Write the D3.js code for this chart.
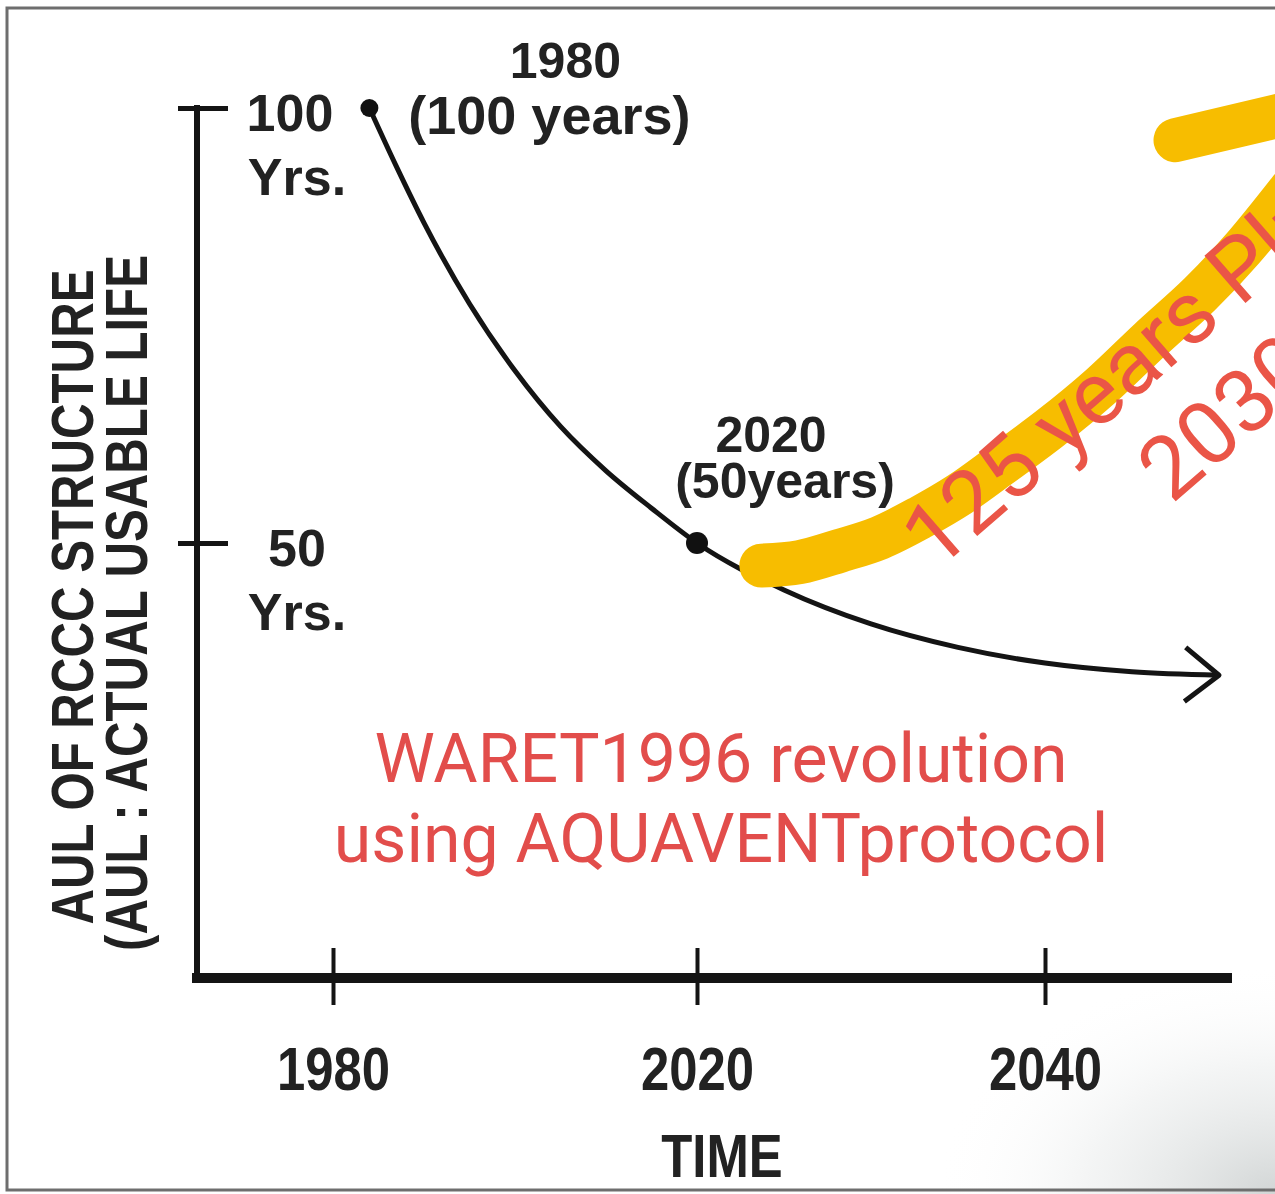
<!DOCTYPE html>
<html>
<head>
<meta charset="utf-8">
<script src="https://cdn.jsdelivr.net/npm/d3@7"></script>
<style>
  body { margin: 0; background: #fff; }
  svg { display: block; }
</style>
</head>
<body>
<div id="chart"></div>
<script>
// AUL curve: year -> actual usable life (years)
const years = [1984, 1987, 1990, 1995, 2000, 2005, 2010, 2015, 2020, 2025, 2030, 2035, 2040, 2045, 2050];
const aul   = [100, 93.2, 86.8, 77.5, 69.8, 63.4, 58.3, 54.0, 50, 44.6, 40.7, 38.0, 36.2, 35.2, 34.8];

// yellow highlight stroke (hand drawn arrow)
const hlYears = [2023.7, 2025.9, 2028.2, 2030.5, 2032.8, 2035.1, 2037.4, 2040.3, 2043.2, 2046.0, 2048.9, 2051.3, 2054.1];
const hlAul   = [47.4, 47.8, 49.1, 50.6, 52.9, 55.6, 58.9, 63.2, 68.0, 73.3, 78.6, 83.7, 90.6];
const headYears = [2047.5, 2056.4];
const headAul   = [96.3, 100.5];

const xTicks = [1980, 2020, 2040];
const yTicks = [50, 100];
const yTickText = {100: ["100", "Yrs."], 50: ["50", "Yrs."]};

// marked points and their labels
const markYears  = [1984, 2020];
const markLabels = [["1980", "(100 years)"], ["2020", "(50years)"]];

const W = 1275, H = 1194;
const bold = "'Liberation Sans', Arial, sans-serif";
const squeeze = "scale(0.82,1)";   // narrow look of the scanned labels

const svg = d3.select("#chart").append("svg")
    .attr("width", W).attr("height", H)
    .attr("viewBox", `0 0 ${W} ${H}`);

const defs = svg.append("defs");
const grad = defs.append("radialGradient").attr("id", "shade");
grad.append("stop").attr("offset", "0%").attr("stop-color", "#b4baba").attr("stop-opacity", 0.6);
grad.append("stop").attr("offset", "55%").attr("stop-color", "#d8dcdc").attr("stop-opacity", 0.3);
grad.append("stop").attr("offset", "100%").attr("stop-color", "#fff").attr("stop-opacity", 0);

defs.append("marker")
    .attr("id", "arrow")
    .attr("markerUnits", "userSpaceOnUse")
    .attr("viewBox", "-40 -32 46 64")
    .attr("markerWidth", 46).attr("markerHeight", 64)
    .attr("refX", 0).attr("refY", 0)
    .attr("orient", "auto")
  .append("path")
    .attr("d", "M-34,-27L0,0L-34,27")
    .attr("fill", "none").attr("stroke", "#141414")
    .attr("stroke-width", 5).attr("stroke-linejoin", "round");

svg.append("rect").attr("width", W).attr("height", H).attr("fill", "#fff");
svg.append("ellipse")
    .attr("cx", W).attr("cy", H).attr("rx", 340).attr("ry", 230)
    .attr("fill", "url(#shade)");

// photo frame
svg.append("rect")
    .attr("x", 7).attr("y", 8).attr("width", W + 20).attr("height", 1182)
    .attr("fill", "none").attr("stroke", "#6e6e6e").attr("stroke-width", 3);

// schematic scales: the time axis is not evenly spaced
const x = d3.scaleLinear().domain([1980, 2020, 2040]).range([333, 697, 1045]);
const y = d3.scaleLinear().domain([0, 100]).range([978, 108]);
const axisX = 197;

// y axis
const yAxis = svg.append("g")
    .attr("transform", `translate(${axisX},0)`)
    .call(d3.axisLeft(y).tickValues(yTicks).tickSize(19).tickSizeOuter(0).tickFormat(""));
yAxis.select(".domain").attr("stroke", "#141414").attr("stroke-width", 6)
    .attr("d", `M0,${y(0)}V${y(100) - 3}`);
yAxis.selectAll(".tick line").attr("x1", 31).attr("stroke", "#141414").attr("stroke-width", 5);

yTicks.forEach(v => {
  const t = svg.append("text")
      .attr("text-anchor", "middle")
      .attr("font-family", bold).attr("font-weight", "bold")
      .attr("font-size", 52).attr("fill", "#222");
  yTickText[v].forEach((s, i) => {
    t.append("tspan").attr("x", v === 100 && i === 0 ? 290 : 297).attr("y", y(v) + 23 + i * 64).text(s);
  });
});

// x axis
svg.append("line")
    .attr("x1", axisX - 5).attr("x2", 1232)
    .attr("y1", y(0)).attr("y2", y(0))
    .attr("stroke", "#141414").attr("stroke-width", 10);

const xAxis = svg.append("g")
    .attr("transform", `translate(0,${y(0)})`)
    .call(d3.axisBottom(x).tickValues(xTicks).tickSize(27).tickFormat(d3.format("d")));
xAxis.select(".domain").remove();
xAxis.selectAll(".tick line").attr("y1", -30).attr("stroke", "#141414").attr("stroke-width", 4);
xAxis.selectAll(".tick text")
    .attr("y", 112).attr("dy", null)
    .attr("transform", squeeze)
    .attr("font-family", bold).attr("font-weight", "bold")
    .attr("font-size", 62).attr("fill", "#222");

svg.append("text")
    .attr("transform", `translate(722,1177) ${squeeze}`)
    .attr("text-anchor", "middle")
    .attr("font-family", bold).attr("font-weight", "bold")
    .attr("font-size", 62).attr("fill", "#222")
    .text("TIME");

// y axis title, two lines
[["AUL OF RCCC STRUCTURE", 93, 597], ["(AUL : ACTUAL USABLE LIFE", 147, 603]].forEach(([s, bx, cy]) => {
  svg.append("text")
      .attr("transform", `translate(${bx},${cy}) rotate(-90) ${squeeze}`)
      .attr("text-anchor", "middle")
      .attr("font-family", bold).attr("font-weight", "bold")
      .attr("font-size", 60).attr("fill", "#222")
      .text(s);
});

// AUL curve
const data = years.map((d, i) => ({year: d, v: aul[i]}));
const line = d3.line().x(d => x(d.year)).y(d => y(d.v)).curve(d3.curveMonotoneX);

svg.append("path")
    .datum(data)
    .attr("d", line)
    .attr("fill", "none").attr("stroke", "#141414").attr("stroke-width", 5)
    .attr("marker-end", "url(#arrow)");

const marks = markYears.map(yr => data.find(d => d.year === yr));
svg.selectAll(".dot")
    .data(marks)
    .enter().append("circle")
    .attr("cx", d => x(d.year)).attr("cy", d => y(d.v))
    .attr("r", (d, i) => i === 0 ? 9 : 11)
    .attr("fill", "#111");

// labels next to the marked points
const offs = [[[196, -30], [180, 26]], [[74, -91], [88, -45]]];
marks.forEach((d, i) => {
  markLabels[i].forEach((s, j) => {
    svg.append("text")
        .attr("x", x(d.year) + offs[i][j][0]).attr("y", y(d.v) + offs[i][j][1])
        .attr("text-anchor", "middle")
        .attr("font-family", bold).attr("font-weight", "bold")
        .attr("font-size", i === 0 && j === 1 ? 54 : 50).attr("fill", "#222")
        .text(s);
  });
});

// yellow highlight
const hl = hlYears.map((d, i) => ({year: d, v: hlAul[i]}));
const head = headYears.map((d, i) => ({year: d, v: headAul[i]}));
const hlLine = d3.line().x(d => x(d.year)).y(d => y(d.v)).curve(d3.curveCatmullRom);
[hl, head].forEach(p => {
  svg.append("path")
      .datum(p)
      .attr("d", hlLine)
      .attr("fill", "none").attr("stroke", "#f7bd00")
      .attr("stroke-width", 44).attr("stroke-linecap", "round");
});

// red annotations
const red = "#e24d4b";
const rot = svg.append("g")
    .attr("transform", "translate(936,572) rotate(-41)")
    .attr("font-family", "Roboto, sans-serif").attr("font-size", 88).attr("fill", "#ea5547");
rot.append("text").text("125 years Plus");
rot.append("text").attr("x", 222).attr("y", 104).text("2030");

svg.append("text")
    .attr("x", 721).attr("y", 782)
    .attr("text-anchor", "middle")
    .attr("font-family", "Roboto, sans-serif").attr("font-size", 68).attr("fill", red)
    .text("WARET1996 revolution");
svg.append("text")
    .attr("x", 721).attr("y", 862)
    .attr("text-anchor", "middle")
    .attr("font-family", "Roboto, sans-serif").attr("font-size", 68).attr("fill", red)
    .text("using AQUAVENTprotocol");
</script>
</body>
</html>
